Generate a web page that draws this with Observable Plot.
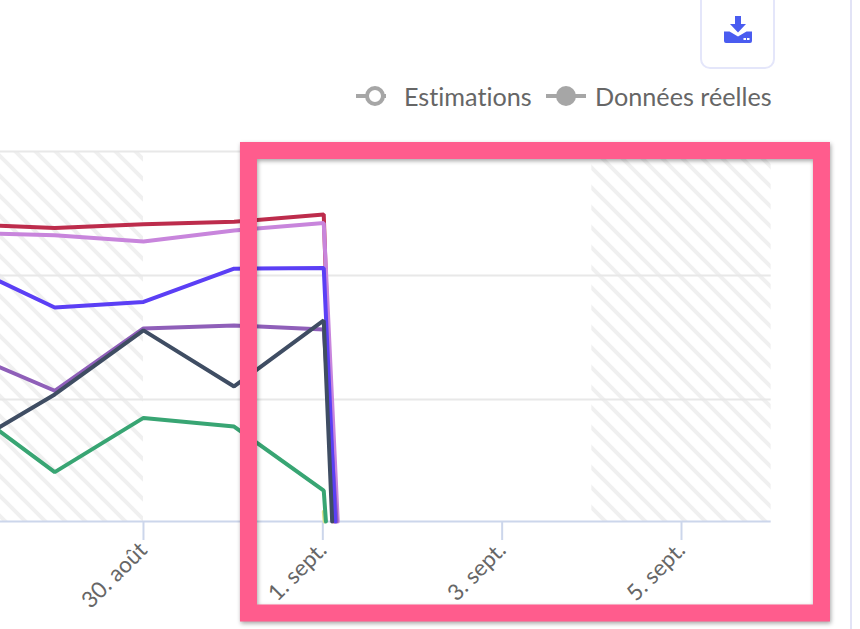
<!DOCTYPE html>
<html lang="fr"><head><meta charset="utf-8">
<script src="https://cdn.jsdelivr.net/npm/d3@7"></script>
<script src="https://cdn.jsdelivr.net/npm/@observablehq/plot@0.6"></script>
<style>
html,body{margin:0;padding:0;background:#fff;width:860px;height:629px;overflow:hidden}
#chart{position:absolute;left:0;top:0}
#chart svg{display:block;overflow:hidden}
#frame{position:absolute;left:850px;top:0;width:2px;height:629px;background:#e2e3f6}
#btn{position:absolute;left:700px;top:-10px;width:71px;height:75px;border:2px solid #e4e6fa;border-radius:10px;background:#fff}
#btn svg{position:absolute;left:22px;top:24px}
#legend{position:absolute;top:80px;left:0;height:32px;font:25.200px/32px Lato,sans-serif;font-variant-ligatures:none;color:#666}
.item{position:absolute;top:0;white-space:nowrap}
.item svg{position:absolute;left:0;top:0}
</style></head><body>
<div id="chart"></div>
<div id="frame"></div>
<div id="btn"><svg width="28" height="28" viewBox="0 0 28 28"><path fill="#4a5cf0" d="M11 0h6v8h5l-8 8.500-8-8.500h5zM0 15.500h5.500l8.500 5 8.500-5H28v9.500a2 2 0 0 1-2 2H2a2 2 0 0 1-2-2z"/><rect x="19.500" y="22" width="2.500" height="2" fill="#fff"/><rect x="23" y="22" width="2.500" height="2" fill="#fff"/></svg></div>
<div id="legend">
 <div class="item" style="left:356px;width:180px"><svg width="40" height="32"><path d="M0 16H30" stroke="#a6a6a6" stroke-width="4"/><circle cx="19" cy="16" r="8" fill="#fff" stroke="#a6a6a6" stroke-width="4"/></svg><span style="position:absolute;left:48px">Estimations</span></div>
 <div class="item" style="left:546px;width:240px"><svg width="44" height="32"><path d="M0 16H40" stroke="#a6a6a6" stroke-width="4"/><circle cx="20" cy="16" r="10" fill="#a6a6a6"/></svg><span style="position:absolute;left:49px">Données réelles</span></div>
</div>
<script>
const dates = ["2020-08-28T00:15Z","2020-08-29T00:15Z","2020-08-30T00:00Z","2020-08-31T00:15Z","2020-09-01T00:15Z"];
const seriesNames = ["jaune","rouge","mauve","violet","bleu","vert","ardoise"];
const seriesColors = ["#dfe38a","#bd2c4c","#c885dc","#8f5fb9","#5b3ff5","#38a573","#3f4d63"];
const jaune = [0,0,0,0,8];
const rouge = [241,238,241,243,249];
const mauve = [234,232,227,236,242];
const violet = [137,106,156.500,159,155.700];
const bleu = [208,173.500,178,205,205.500];
const vert = [94,40,84,77,25];
const ardoise = [60,103,155,109.500,163];
const dropDates = ["2020-09-01T00:30Z","2020-09-01T03:00Z","2020-09-01T04:00Z","2020-09-01T03:40Z","2020-09-01T03:20Z","2020-09-01T00:50Z","2020-09-01T02:30Z"];
const tickDates = ["2020-08-30","2020-09-01","2020-09-03","2020-09-05"];
const tickLabels = ["30. août","1. sept.","3. sept.","5. sept."];
const yGrid = [99,199.400,300];
const hatchStart = ["2020-08-28T09:44Z","2020-09-04"];
const hatchEnd = ["2020-08-30","2020-09-06"];
const highlightX = ["2020-08-31T04:14Z","2020-09-06T13:36Z"];
const highlightY = [-74.600,300.400];

const values = [jaune,rouge,mauve,violet,bleu,vert,ardoise];
const rows = seriesNames.flatMap((s,i)=>[
  ...dates.map((d,j)=>({s,date:new Date(d),v:values[i][j]})).filter(r=>s!=="jaune"||r.v>0),
  {s,date:new Date(dropDates[i]),v:0}
]);
const hatch = hatchStart.map((a,i)=>({a:new Date(a),b:new Date(hatchEnd[i])}));
const ticks = tickDates.map(d=>new Date(d));

const plot = Plot.plot({
  width:860,height:629,marginLeft:0,marginRight:89.330,marginTop:151,marginBottom:108,
  style:{background:"transparent"},
  x:{type:"utc",domain:[new Date(hatchStart[0]),new Date(hatchEnd[1])],label:null},
  y:{domain:[0,300],axis:null,label:null},
  color:{domain:seriesNames,range:seriesColors},
  marks:[
    Plot.rect(hatch,{x1:"a",x2:"b",y1:0,y2:300,fill:"url(#hatch)"}),
    Plot.ruleY(yGrid,{stroke:"#e8e8e8",strokeWidth:2}),
    Plot.ruleY([0],{stroke:"#ccd6eb",strokeWidth:2}),
    Plot.axisX({ticks,tickFormat:d=>tickLabels[ticks.findIndex(t=>+t===+d)],tickRotate:-45,tickSize:19,tickPadding:6,
      stroke:"#ccd6eb",strokeWidth:2,fill:"#666",fontSize:22.500,fontFamily:"Lato,sans-serif",label:null}),
    Plot.line(rows,{x:"date",y:"v",z:"s",stroke:"s",strokeWidth:4,strokeLinejoin:"miter",curve:"linear"}),
    Plot.rect([0],{x1:()=>new Date(highlightX[0]),x2:()=>new Date(highlightX[1]),y1:()=>highlightY[0],y2:()=>highlightY[1],
      fill:"none",stroke:"#ff5c8d",strokeWidth:17})
  ]
});
const defs = document.createElementNS("http://www.w3.org/2000/svg","defs");
defs.innerHTML='<pattern id="hatch" patternUnits="userSpaceOnUse" width="20" height="20" patternTransform="translate(4,0)"><path d="M0 0L20 20M-5 15L5 25M15 -5L25 5" stroke="#f0f0f0" stroke-width="4" fill="none"/></pattern>';
plot.prepend(defs);
const allRects = plot.querySelectorAll("rect");
allRects[allRects.length-1].style.filter="drop-shadow(1px 2px 2px rgba(0,0,0,.35))";
document.getElementById("chart").append(plot);
</script>
</body></html>
